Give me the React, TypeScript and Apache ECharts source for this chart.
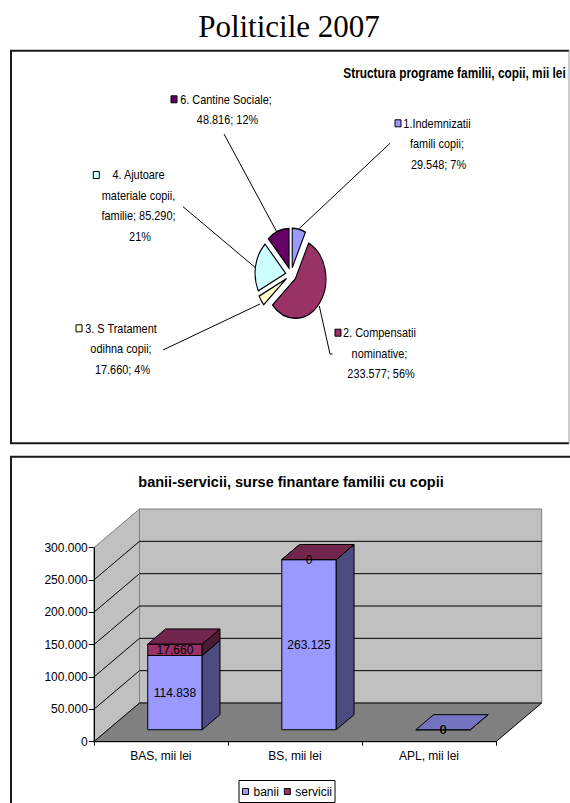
import React, { useEffect, useRef } from 'react';
import * as echarts from 'echarts';

// ---- data ----
const TITLE = 'Politicile 2007';

const PIE_TITLE = 'Structura programe familii, copii, mii lei';
const PIE_NAMES = [
  '1.Indemnizatii famili copii',
  '2. Compensatii nominative',
  '3. S Tratament odihna copii',
  '4. Ajutoare materiale copii, familie',
  '6. Cantine Sociale',
];
const PIE_VALUES = [29548, 233577, 17660, 85290, 48816];

const BAR_TITLE = 'banii-servicii, surse finantare familii cu copii';
const CATEGORIES = ['BAS, mii lei', 'BS, mii lei', 'APL, mii lei'];
const SERIES_NAMES = ['banii', 'servicii'];
const BANII = [114838, 263125, 0];
const SERVICII = [17660, 0, 0];
const Y_MAX = 300000;
const Y_STEP = 50000;

// ---- styles / layout ----
const FONT = '"Liberation Sans", Arial, Helvetica, sans-serif';
const SERIF = '"Liberation Serif", "Times New Roman", Times, serif';
const PIE_COLORS = ['#9999FF', '#993366', '#FFFFCC', '#CCFFFF', '#660066'];
const BAR_COLORS = [
  { front: '#9999FF', top: '#7373BF', side: '#4C4C80' },
  { front: '#993366', top: '#73264D', side: '#4D1A33' },
];

const PIE_CX = 291;
const PIE_CY = 274.6;
const PIE_R = 39.5;
const PIE_ASPECT = 0.775;
const PIE_EXPLODE = 7;
const NARROW = 0.84;
const LABEL_LINE_H = 20.5;

const PIE_LABEL_LAYOUT = [
  { x: 438.5, y: 123.3, width: 95, keyX: 395, line: [[390, 143.3], [299.3, 228.5]] },
  { x: 381, y: 332.7, width: 95, keyX: 335, line: [[319.3, 306], [330, 354], [332.5, 354]] },
  { x: 122.5, y: 328.3, width: 95, keyX: 76, line: [[163, 350], [260, 304]] },
  { x: 140, y: 175, width: 95, keyX: 93.3, line: [[183, 206.7], [255, 267.3]] },
  { x: 227.5, y: 99.3, width: 120, keyX: 171, line: [[224, 134], [276.7, 231.7]] },
];

const GRID = { left: 93.8, top: 547.7, width: 402.2, height: 194 };
const WALL_DX = 45.7;
const WALL_DY = -38.7;
const BAR_FRONT = 0.309;
const BAR_DEPTH = 0.39;
const BAR_WIDTH_RATIO = 0.406;

function fmt(v: number): string {
  return String(Math.round(v)).replace(/\B(?=(\d{3})+(?!\d))/g, '.');
}

function renderPieSlice(params: any, api: any) {
  const i = params.dataIndex;
  const total = PIE_VALUES.reduce((a, b) => a + b, 0);
  let acc = 0;
  for (let j = 0; j < i; j++) acc += PIE_VALUES[j];
  const v = api.value(0);
  const a0 = (acc / total) * Math.PI * 2;
  const a1 = ((acc + v) / total) * Math.PI * 2;
  const mid = (a0 + a1) / 2;
  return {
    type: 'group',
    x: PIE_CX + Math.sin(mid) * PIE_EXPLODE * PIE_ASPECT,
    y: PIE_CY - Math.cos(mid) * PIE_EXPLODE,
    scaleX: PIE_ASPECT,
    children: [
      {
        type: 'sector',
        shape: { cx: 0, cy: 0, r: PIE_R, r0: 0, startAngle: a0 - Math.PI / 2, endAngle: a1 - Math.PI / 2, clockwise: true },
        style: { fill: PIE_COLORS[i], stroke: '#000', lineWidth: 1.4, strokeNoScale: true },
      },
    ],
  };
}

function renderWalls(params: any, api: any) {
  const cs = params.coordSys;
  const x0 = cs.x;
  const x1 = cs.x + cs.width;
  const yB = api.coord([0, 0])[1];
  const yT = api.coord([0, Y_MAX])[1];
  const dx = WALL_DX;
  const dy = WALL_DY;
  const children: any[] = [
    {
      type: 'polygon',
      shape: { points: [[x0, yB], [x0, yT], [x0 + dx, yT + dy], [x0 + dx, yB + dy]] },
      style: { fill: '#C0C0C0', stroke: '#808080', lineWidth: 1 },
    },
    {
      type: 'rect',
      shape: { x: x0 + dx, y: yT + dy, width: x1 - x0, height: yB - yT },
      style: { fill: '#C0C0C0', stroke: '#808080', lineWidth: 1 },
    },
    {
      type: 'polygon',
      shape: { points: [[x0, yB], [x1, yB], [x1 + dx, yB + dy], [x0 + dx, yB + dy]] },
      style: { fill: '#808080', stroke: '#000', lineWidth: 1 },
    },
  ];
  for (let v = Y_STEP; v < Y_MAX; v += Y_STEP) {
    const y = api.coord([0, v])[1];
    children.push({ type: 'line', shape: { x1: x0, y1: y, x2: x0 + dx, y2: y + dy }, style: { stroke: '#000', lineWidth: 1 } });
    children.push({ type: 'line', shape: { x1: x0 + dx, y1: y + dy, x2: x1 + dx, y2: y + dy }, style: { stroke: '#000', lineWidth: 1 } });
  }
  return { type: 'group', children };
}

function makeBarRenderer(seriesIdx: number) {
  const c = BAR_COLORS[seriesIdx];
  return (params: any, api: any) => {
    const i = api.value(0);
    const v = api.value(1);
    const base = api.value(2);
    const p0 = api.coord([i, base]);
    const p1 = api.coord([i, base + v]);
    const band = api.size([1, 0])[0];
    const bw = band * BAR_WIDTH_RATIO;
    const ox = WALL_DX * BAR_FRONT;
    const oy = WALL_DY * BAR_FRONT;
    const dx = WALL_DX * BAR_DEPTH;
    const dy = WALL_DY * BAR_DEPTH;
    const xl = p0[0] - bw / 2 + ox;
    const xr = p0[0] + bw / 2 + ox;
    const yb = p0[1] + oy;
    const yt = p1[1] + oy;
    const children: any[] = [];
    // an empty stack only shows the cap of its first series
    const hidden = v === 0 && base === 0 && seriesIdx > 0;
    if (!hidden) {
      children.push({
        type: 'rect',
        shape: { x: xl, y: yt, width: xr - xl, height: yb - yt },
        style: { fill: c.front, stroke: '#000', lineWidth: 1 },
      });
      children.push({
        type: 'polygon',
        shape: { points: [[xr, yb], [xr, yt], [xr + dx, yt + dy], [xr + dx, yb + dy]] },
        style: { fill: c.side, stroke: '#000', lineWidth: 1 },
      });
      children.push({
        type: 'polygon',
        shape: { points: [[xl, yt], [xr, yt], [xr + dx, yt + dy], [xl + dx, yt + dy]] },
        style: { fill: c.top, stroke: '#000', lineWidth: 1 },
      });
    }
    children.push({
      type: 'text',
      x: (xl + xr) / 2,
      y: (yt + yb) / 2,
      z2: 10,
      style: { text: fmt(v), align: 'center', verticalAlign: 'middle', fontSize: 12, fontFamily: FONT, fill: '#000' },
    });
    return { type: 'group', children };
  };
}

function buildPieGraphics(): any[] {
  const total = PIE_VALUES.reduce((a, b) => a + b, 0);
  const els: any[] = [];
  PIE_NAMES.forEach((name, i) => {
    const L = PIE_LABEL_LAYOUT[i];
    const v = PIE_VALUES[i];
    const pct = Math.round((v / total) * 100);
    els.push({
      type: 'polyline',
      shape: { points: L.line },
      style: { stroke: '#000', lineWidth: 1, fill: null },
      z: 5,
    });
    els.push({
      type: 'rect',
      shape: { x: L.keyX, y: L.y - 3.5, width: 6, height: 7 },
      style: { fill: PIE_COLORS[i], stroke: '#000', lineWidth: 1 },
      z: 6,
    });
    els.push({
      type: 'text',
      x: L.x,
      y: L.y - LABEL_LINE_H / 2,
      scaleX: NARROW,
      z: 6,
      style: {
        text: `${name}; ${fmt(v)}; ${pct}%`,
        width: L.width,
        overflow: 'break',
        align: 'center',
        verticalAlign: 'top',
        lineHeight: LABEL_LINE_H,
        fontSize: 13,
        fontFamily: FONT,
        fill: '#000',
      },
    });
  });
  return els;
}

export default function App() {
  const ref = useRef<HTMLDivElement>(null);

  useEffect(() => {
    if (!ref.current) return;
    const chart = echarts.init(ref.current, undefined, { renderer: 'svg' });

    const graphic: any[] = [
      {
        type: 'text',
        x: 289,
        y: 26,
        style: { text: TITLE, align: 'center', verticalAlign: 'middle', fontSize: 31, fontFamily: SERIF, fill: '#000' },
      },
      // pie panel frame
      {
        type: 'polyline',
        shape: { points: [[569, 50.7], [11, 50.7], [11, 443.3], [569, 443.3]] },
        style: { stroke: '#1a1a1a', lineWidth: 2, fill: null },
      },
      {
        type: 'line',
        shape: { x1: 569, y1: 50.7, x2: 569, y2: 443.3 },
        style: { stroke: '#9a9a9a', lineWidth: 1 },
      },
      {
        type: 'text',
        x: 343.3,
        y: 73.3,
        scaleX: NARROW,
        style: { text: PIE_TITLE, align: 'left', verticalAlign: 'middle', fontSize: 14.1, fontWeight: 'bold', fontFamily: FONT, fill: '#000' },
      },
      ...buildPieGraphics(),
      // bar panel frame
      {
        type: 'polyline',
        shape: { points: [[572, 456.7], [11, 456.7], [11, 806]] },
        style: { stroke: '#1a1a1a', lineWidth: 2, fill: null },
      },
      {
        type: 'text',
        x: 291,
        y: 481.7,
        style: { text: BAR_TITLE, align: 'center', verticalAlign: 'middle', fontSize: 14.5, fontWeight: 'bold', fontFamily: FONT, fill: '#000' },
      },
    ];

    chart.setOption({
      animation: false,
      backgroundColor: '#fff',
      textStyle: { fontFamily: FONT },
      graphic,
      legend: {
        data: SERIES_NAMES,
        left: 239,
        top: 780.5,
        orient: 'horizontal',
        icon: 'rect',
        itemWidth: 6,
        itemHeight: 6,
        itemGap: 5,
        padding: [5, 3, 5, 3],
        borderColor: '#000',
        borderWidth: 1,
        backgroundColor: '#fff',
        itemStyle: { borderColor: '#000', borderWidth: 1 },
        textStyle: { fontSize: 12, color: '#000', fontFamily: FONT },
        selectedMode: false,
      },
      grid: { left: GRID.left, top: GRID.top, width: GRID.width, height: GRID.height, containLabel: false },
      xAxis: {
        type: 'category',
        data: CATEGORIES,
        z: 4,
        axisLine: { show: true, lineStyle: { color: '#000', width: 1 } },
        axisTick: { show: true, length: 4, alignWithLabel: false, lineStyle: { color: '#000' } },
        axisLabel: { color: '#000', fontSize: 12, margin: 8, fontFamily: FONT },
        splitLine: { show: false },
      },
      yAxis: {
        type: 'value',
        min: 0,
        max: Y_MAX,
        interval: Y_STEP,
        z: 4,
        axisLine: { show: true, lineStyle: { color: '#000', width: 1 } },
        axisTick: { show: true, length: 5, lineStyle: { color: '#000' } },
        axisLabel: { color: '#000', fontSize: 12, margin: 6, fontFamily: FONT, formatter: (v: number) => fmt(v) },
        splitLine: { show: false },
      },
      series: [
        {
          type: 'custom',
          name: 'walls',
          coordinateSystem: 'cartesian2d',
          silent: true,
          z: 1,
          data: [[0, 0]],
          encode: { x: 0, y: 1 },
          renderItem: renderWalls,
        },
        {
          type: 'custom',
          name: SERIES_NAMES[0],
          coordinateSystem: 'cartesian2d',
          z: 5,
          itemStyle: { color: BAR_COLORS[0].front },
          data: BANII.map((v, i) => [i, v, 0]),
          encode: { x: 0, y: 1 },
          renderItem: makeBarRenderer(0),
        },
        {
          type: 'custom',
          name: SERIES_NAMES[1],
          coordinateSystem: 'cartesian2d',
          z: 6,
          itemStyle: { color: BAR_COLORS[1].front },
          data: SERVICII.map((v, i) => [i, v, BANII[i]]),
          encode: { x: 0, y: 1 },
          renderItem: makeBarRenderer(1),
        },
        {
          type: 'custom',
          name: 'pie',
          coordinateSystem: 'none',
          silent: true,
          z: 3,
          data: PIE_VALUES,
          renderItem: renderPieSlice,
        },
      ],
    });

    return () => chart.dispose();
  }, []);

  return (
    <div
      ref={ref}
      style={{ position: 'fixed', left: 0, top: 0, width: 570, height: 803, background: '#fff' }}
    />
  );
}
